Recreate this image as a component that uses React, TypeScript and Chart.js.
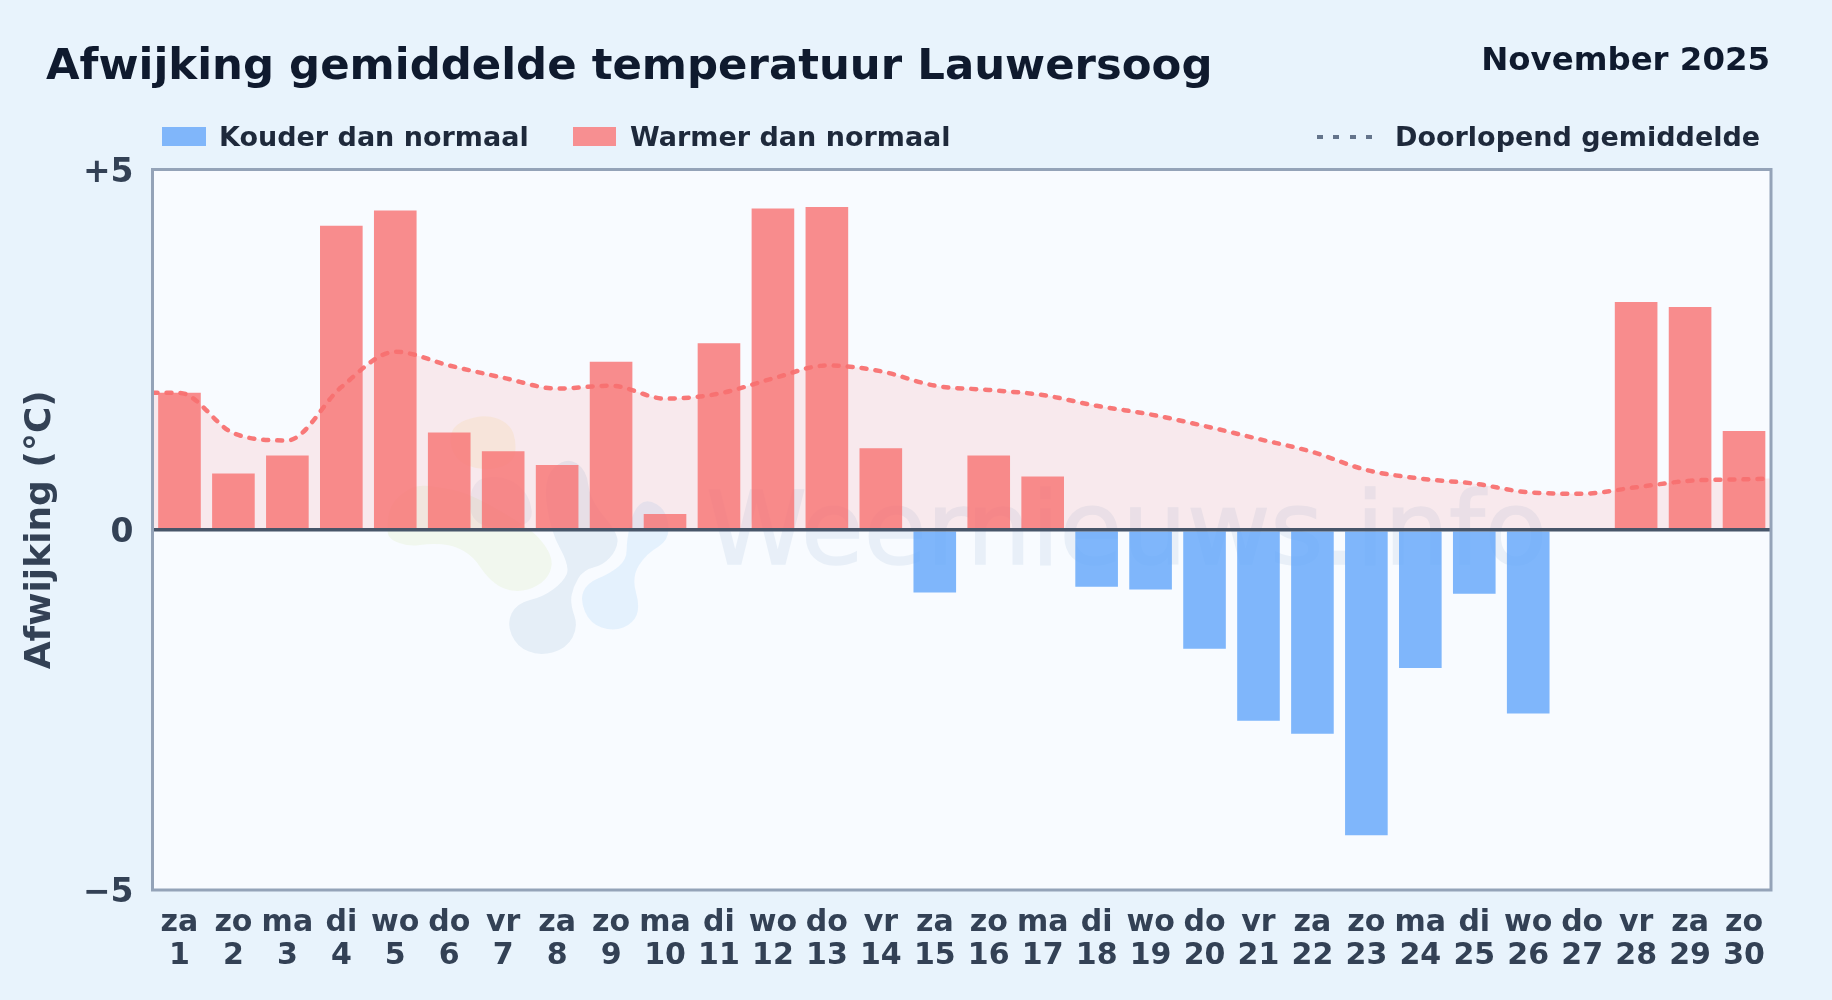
import React, { useEffect, useRef } from "react";
import { Chart, registerables } from "chart.js";

Chart.register(...registerables);

const dayNames = ["za","zo","ma","di","wo","do","vr","za","zo","ma","di","wo","do","vr","za","zo","ma","di","wo","do","vr","za","zo","ma","di","wo","do","vr","za","zo"];
const dayNumbers = ["1","2","3","4","5","6","7","8","9","10","11","12","13","14","15","16","17","18","19","20","21","22","23","24","25","26","27","28","29","30"];
const anomaly: (number | null)[] = [1.90,0.78,1.03,4.22,4.43,1.35,1.09,0.90,2.33,0.22,2.59,4.46,4.48,1.13,-0.87,1.03,0.74,-0.79,-0.83,-1.65,-2.65,-2.83,-4.24,-1.92,-0.89,-2.55,null,3.16,3.09,1.37];
const runDays = [0.5,1,2,3,4,5,6,7,8,9,10,11,12,13,14,15,16,17,18,19,20,21,22,23,24,25,26,27,28,29,30,30.5];
const runMean = [1.9,1.9,1.34,1.24,1.98,2.47,2.28,2.11,1.96,2.0,1.82,1.89,2.1,2.28,2.2,2.0,1.94,1.87,1.72,1.6,1.44,1.26,1.08,0.83,0.71,0.64,0.52,0.5,0.59,0.68,0.7,0.71];
const yTicks = [-5, 0, 5];
const COLD = "rgba(96,165,250,0.8)";
const WARM = "rgba(248,113,113,0.8)";
const LEGEND_COLD = "#80b6fa";
const LEGEND_WARM = "#f78f91";
const FONT = '"DejaVu Sans", sans-serif';

const logoOrange = [[235,80],[340,40],[420,70],[440,130],[430,190],[340,215],[250,180]];
const logoGreen = [[50,390],[60,310],[130,255],[200,260],[300,280],[480,385],[530,440],[550,490],[530,540],[470,575],[400,570],[350,530],[310,470],[250,435],[180,430],[120,440],[60,420]];
const logoGrey = [[300,240],[400,225],[480,280],[490,385],[300,385]];
const logoDark = [[410,670],[440,610],[520,590],[580,545],[600,500],[540,390],[520,230],[590,170],[650,210],[660,300],[745,400],[740,450],[700,495],[640,510],[610,560],[600,610],[625,680],[590,745],[510,768],[440,740]];
const logoLight = [[630,600],[650,550],[720,520],[770,480],[770,420],[790,330],[830,295],[890,330],[900,420],[830,460],[785,530],[810,620],[790,670],[730,695],[660,670]];

function blob(points: number[][]) {
  const p = points.map(([x, y]) => [370 + x / 3, 400 + y / 3]);
  const mid = (a: number[], b: number[]) => [(a[0] + b[0]) / 2, (a[1] + b[1]) / 2];
  const start = mid(p[p.length - 1], p[0]);
  let d = `M${start[0]} ${start[1]}`;
  p.forEach((pt, i) => {
    const m = mid(pt, p[(i + 1) % p.length]);
    d += ` Q${pt[0]} ${pt[1]} ${m[0]} ${m[1]}`;
  });
  return d + " Z";
}

function tick(v: number) {
  return v > 0 ? `+${v}` : v < 0 ? `\u2212${Math.abs(v)}` : "0";
}

const frame = {
  id: "frame",
  afterDraw(c: any) {
    const { ctx, chartArea: a } = c;
    ctx.save();
    ctx.strokeStyle = "#94a3b8";
    ctx.lineWidth = 3;
    ctx.strokeRect(a.left, a.top, a.width, a.height);
    ctx.restore();
  },
};

function label(text: string, left: number | null, right: number | null, baseline: number, size: number, color: string) {
  const style: React.CSSProperties = {
    position: "absolute",
    top: baseline - 0.846 * size,
    fontFamily: FONT,
    fontWeight: 700,
    fontSize: size,
    lineHeight: 1,
    color,
    whiteSpace: "nowrap",
  };
  if (left !== null) style.left = left;
  if (right !== null) style.right = right;
  return <div style={style}>{text}</div>;
}

export default function App() {
  const ref = useRef<HTMLCanvasElement>(null);
  useEffect(() => {
    const chart = new Chart(ref.current as HTMLCanvasElement, {
      type: "bar",
      plugins: [frame],
      data: {
        labels: dayNames.map((d, i) => [d, dayNumbers[i]]),
        datasets: [
          {
            type: "line",
            data: runDays.map((x, i) => ({ x, y: runMean[i] })),
            xAxisID: "xl",
            order: 0,
            borderColor: "rgba(248,113,113,0.95)",
            borderWidth: 4.5,
            borderDash: [5, 9],
            borderCapStyle: "round",
            backgroundColor: "rgba(248,113,113,0.13)",
            fill: "origin",
            pointRadius: 0,
            cubicInterpolationMode: "monotone",
          } as any,
          {
            type: "bar",
            data: anomaly,
            xAxisID: "x",
            order: 1,
            grouped: false,
            backgroundColor: anomaly.map((v) => ((v ?? 0) < 0 ? COLD : WARM)),
            barPercentage: 0.79,
            categoryPercentage: 1,
          } as any,
        ],
      },
      options: {
        animation: false,
        responsive: false,
        devicePixelRatio: 1,
        layout: { padding: { top: 169.5, right: 61, left: 0, bottom: 0 } },
        plugins: { legend: { display: false }, tooltip: { enabled: false } },
        scales: {
          x: {
            type: "category",
            offset: true,
            afterFit: (s: any) => { s.height = 110; },
            grid: { display: false },
            border: { display: false },
            ticks: {
              color: "#334155",
              font: { family: FONT, weight: "bold", size: 30, lineHeight: 1.1 },
              maxRotation: 0,
              autoSkip: false,
              padding: 9,
            } as any,
          },
          xl: { type: "linear", display: false, min: 0.5, max: 30.5, offset: false },
          y: {
            min: -5,
            max: 5,
            afterFit: (s: any) => { s.width = 152.5; },
            afterBuildTicks: (s: any) => { s.ticks = yTicks.map((value) => ({ value })); },
            border: { display: false },
            grid: {
              z: 1,
              drawTicks: false,
              color: (c: any) => (c.tick.value === 0 ? "#475569" : "transparent"),
              lineWidth: 3.5,
            },
            ticks: {
              color: "#334155",
              font: { family: FONT, weight: "bold", size: 33 },
              padding: 19,
              labelOffset: 3.5,
              callback: (v: any) => tick(Number(v)),
            },
            title: {
              display: true,
              text: "Afwijking (\u00b0C)",
              color: "#334155",
              font: { family: FONT, weight: "bold", size: 36 },
              padding: { top: 19, bottom: 0 },
            },
          },
        },
      },
    } as any);
    return () => chart.destroy();
  }, []);

  return (
    <div style={{ position: "fixed", left: 0, top: 0, width: 1832, height: 1000, overflow: "hidden", background: "#e8f3fc" }}>
      <div style={{ position: "absolute", left: 152.5, top: 169.5, width: 1618.5, height: 720.5, background: "#f8fbff" }} />
      <svg width={1832} height={1000} style={{ position: "absolute", left: 0, top: 0, pointerEvents: "none" }}>
        <path d={blob(logoOrange)} fill="#f5c542" opacity={0.11} />
        <path d={blob(logoGreen)} fill="#bcd65c" opacity={0.1} />
        <path d={blob(logoGrey)} fill="#5b6fa8" opacity={0.07} />
        <path d={blob(logoDark)} fill="#2563a8" opacity={0.085} />
        <path d={blob(logoLight)} fill="#3b9ae8" opacity={0.1} />
      </svg>
      <div style={{ position: "absolute", left: 706, top: 564 - 0.846 * 102, fontFamily: FONT, fontSize: 102, lineHeight: 1, color: "#2563a8", opacity: 0.07, whiteSpace: "nowrap", pointerEvents: "none", WebkitTextStroke: "1.5px #2563a8" }}>Weernieuws.info</div>
      <canvas ref={ref} width={1832} height={1000} style={{ position: "absolute", left: 0, top: 0, width: 1832, height: 1000 }} />
      {label("Afwijking gemiddelde temperatuur Lauwersoog", 46, null, 80, 43.4, "#0f1a2e")}
      {label("November 2025", null, 62, 70, 32.4, "#0f1a2e")}
      <div style={{ position: "absolute", left: 162, top: 127, width: 44, height: 19, background: LEGEND_COLD }} />
      {label("Kouder dan normaal", 219, null, 146, 27, "#1e293b")}
      <div style={{ position: "absolute", left: 573, top: 127, width: 43, height: 19, background: LEGEND_WARM }} />
      {label("Warmer dan normaal", 630, null, 146, 27, "#1e293b")}
      {[0, 1, 2, 3].map((i) => (
        <div key={i} style={{ position: "absolute", left: 1317 + i * 16.3, top: 135, width: 6, height: 4, background: "#64748b" }} />
      ))}
      {label("Doorlopend gemiddelde", 1395, null, 146, 27, "#1e293b")}
    </div>
  );
}
